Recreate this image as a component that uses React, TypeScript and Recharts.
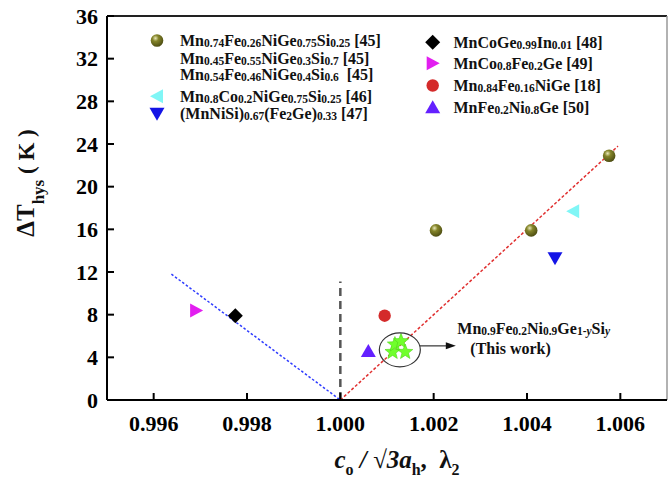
import React from 'react';
import { ScatterChart, Scatter, XAxis, YAxis, ReferenceLine, ReferenceDot, Legend } from 'recharts';

const FONT = '"Liberation Serif", "Times New Roman", Times, serif';

// axis ticks
const xTicks = [0.996, 0.998, 1.0, 1.002, 1.004, 1.006];
const xMinorTicks = [0.995, 0.997, 0.999, 1.001, 1.003, 1.005, 1.007];
const yTicks = [0, 4, 8, 12, 16, 20, 24, 28, 32, 36];
const yMinorTicks = [2, 6, 10, 14, 18, 22, 26, 30, 34];

// values: x = c/(sqrt3 a) lambda2, y = dT_hys (K)
const mnFeNiGeSiX = [1.00205, 1.00409, 1.00576];
const mnFeNiGeSiY = [15.9, 15.9, 22.9];
const mnCoNiGeSiX = [1.00499];
const mnCoNiGeSiY = [17.7];
const mnNiSiFeGeX = [1.0046];
const mnNiSiFeGeY = [13.3];
const mnCoGeInX = [0.99775];
const mnCoGeInY = [7.9];
const mnCoFeGeX = [0.99691];
const mnCoFeGeY = [8.4];
const mnFeNiGeX = [1.00095];
const mnFeNiGeY = [7.9];
const mnFeNi08GeX = [1.0006];
const mnFeNi08GeY = [4.6];
const thisWorkX = [1.00112, 1.00117, 1.0013, 1.00139];
const thisWorkY = [4.5, 5.2, 5.5, 4.5];

// guide lines
const leftGuide = [
  { x: 0.99638, y: 11.8 },
  { x: 1.0, y: 0 },
];
const rightGuide = [
  { x: 1.0, y: 0 },
  { x: 1.00595, y: 23.8 },
];
const divider = [
  { x: 1.0, y: 0 },
  { x: 1.0, y: 11.1 },
];
const thisWorkCenter = { x: 1.001275, y: 4.7 };

// legend text, _{..} = subscript, _(..) = italic subscript
const legendLeft = [
  'Mn_{0.74}Fe_{0.26}NiGe_{0.75}Si_{0.25} [45]',
  'Mn_{0.45}Fe_{0.55}NiGe_{0.3}Si_{0.7} [45]',
  'Mn_{0.54}Fe_{0.46}NiGe_{0.4}Si_{0.6}  [45]',
  'Mn_{0.8}Co_{0.2}NiGe_{0.75}Si_{0.25} [46]',
  '(MnNiSi)_{0.67}(Fe_{2}Ge)_{0.33} [47]',
];
const legendRight = [
  'MnCoGe_{0.99}In_{0.01} [48]',
  'MnCo_{0.8}Fe_{0.2}Ge [49]',
  'Mn_{0.84}Fe_{0.16}NiGe [18]',
  'MnFe_{0.2}Ni_{0.8}Ge [50]',
];
const thisWorkLabel = 'Mn_{0.9}Fe_{0.2}Ni_{0.9}Ge_{1-}_(y)Si_(y)';

const pts = (xs: number[], ys: number[]) => xs.map((x, i) => ({ x, y: ys[i] }));

type Seg = { t: string; sub?: boolean; it?: boolean };
const parseFormula = (s: string): Seg[] => {
  const out: Seg[] = [];
  const re = /_\{([^}]*)\}|_\(([^)]*)\)/g;
  let last = 0;
  let m: RegExpExecArray | null;
  while ((m = re.exec(s))) {
    if (m.index > last) out.push({ t: s.slice(last, m.index) });
    if (m[1] !== undefined) out.push({ t: m[1], sub: true });
    else out.push({ t: m[2], sub: true, it: true });
    last = m.index + m[0].length;
  }
  if (last < s.length) out.push({ t: s.slice(last) });
  return out;
};

const Formula = ({ x, y, text, size = 16, sub = 11.5 }: { x: number; y: number; text: string; size?: number; sub?: number }) => {
  let shift = 0;
  return (
    <text x={x} y={y} fontFamily={FONT} fontWeight="bold" fontSize={size} fill="#111" style={{ whiteSpace: 'pre' }}>
      {parseFormula(text).map((s, i) => {
        const target = s.sub ? 1 : 0;
        const dy = target - shift;
        shift = target;
        return (
          <tspan key={i} dy={dy} fontSize={s.sub ? sub : size} fontStyle={s.it ? 'italic' : 'normal'}>
            {s.t}
          </tspan>
        );
      })}
    </text>
  );
};

// ---- marker shapes
type P = { cx?: number; cy?: number };
const Sphere = ({ cx = 0, cy = 0 }: P) => (
  <g>
    <defs>
      <radialGradient id="oliveBall" cx="38%" cy="32%" r="70%">
        <stop offset="0%" stopColor="#e8e8b8" />
        <stop offset="35%" stopColor="#85852a" />
        <stop offset="100%" stopColor="#4c4c12" />
      </radialGradient>
    </defs>
    <circle cx={cx} cy={cy} r={6.3} fill="url(#oliveBall)" />
  </g>
);
const Dot = ({ cx = 0, cy = 0 }: P) => <circle cx={cx} cy={cy} r={6.2} fill="#d42a2a" />;
const Diamond = ({ cx = 0, cy = 0 }: P) => (
  <path d={`M${cx},${cy - 7.5}L${cx + 7.5},${cy}L${cx},${cy + 7.5}L${cx - 7.5},${cy}Z`} fill="#000" />
);
const TriRight = ({ cx = 0, cy = 0 }: P) => (
  <path d={`M${cx - 6},${cy - 7}L${cx + 7},${cy}L${cx - 6},${cy + 7}Z`} fill="#e21ef0" />
);
const TriLeft = ({ cx = 0, cy = 0 }: P) => (
  <path d={`M${cx + 6},${cy - 7}L${cx - 7},${cy}L${cx + 6},${cy + 7}Z`} fill="#80f6f6" />
);
const TriUp = ({ cx = 0, cy = 0 }: P) => (
  <path d={`M${cx},${cy - 7}L${cx + 7.5},${cy + 6}L${cx - 7.5},${cy + 6}Z`} fill="#6420ff" />
);
const TriDown = ({ cx = 0, cy = 0 }: P) => (
  <path d={`M${cx - 7.5},${cy - 6}L${cx + 7.5},${cy - 6}L${cx},${cy + 7}Z`} fill="#1414e6" />
);
const Star = ({ cx = 0, cy = 0 }: P) => {
  let d = '';
  for (let i = 0; i < 10; i++) {
    const a = -Math.PI / 2 + (i * Math.PI) / 5;
    const rad = i % 2 === 0 ? 8 : 3.4;
    d += (i ? 'L' : 'M') + (cx + rad * Math.cos(a)).toFixed(2) + ',' + (cy + rad * Math.sin(a)).toFixed(2);
  }
  return <path d={d + 'Z'} fill="#70ff2c" stroke="#4fd61a" strokeWidth={0.6} />;
};

const ThisWorkNote = ({ cx = 0, cy = 0 }: P) => (
  <g>
    <ellipse cx={cx} cy={cy} rx={20.5} ry={17} fill="none" stroke="#333" strokeWidth={1.2} />
    <line x1={cx + 20} y1={cy - 4} x2={cx + 48} y2={cy - 4} stroke="#333" strokeWidth={1.2} />
    <path d={`M${cx + 56},${cy - 4}L${cx + 46},${cy - 7.5}L${cx + 46},${cy - 0.5}Z`} fill="#111" />
    <Formula x={cx + 57.5} y={cy - 16} text={thisWorkLabel} />
    <text x={cx + 70.5} y={cy + 4} fontFamily={FONT} fontWeight="bold" fontSize={16} fill="#111">
      (This work)
    </text>
  </g>
);

const LegendBox = () => {
  const leftMarks = [Sphere, null, null, TriLeft, TriDown];
  const rightMarks = [Diamond, TriRight, Dot, TriUp];
  const leftBase = [46, 63.7, 80.3, 101.7, 119.3];
  const rightBase = [47.7, 68.7, 91, 112.7];
  return (
    <svg width={669} height={130}>
      {legendLeft.map((s, i) => {
        const M = leftMarks[i];
        return (
          <g key={s}>
            {M && <M cx={157} cy={leftBase[i] - 5.5} />}
            <Formula x={180} y={leftBase[i]} text={s} />
          </g>
        );
      })}
      {legendRight.map((s, i) => {
        const M = rightMarks[i];
        return (
          <g key={s}>
            <M cx={432.7} cy={rightBase[i] - 5.5} />
            <Formula x={453.5} y={rightBase[i]} text={s} />
          </g>
        );
      })}
    </svg>
  );
};

const XLabel = (props: any) => {
  const vb = props.viewBox || { x: 107, y: 400, width: 560, height: 79 };
  const cx = vb.x + vb.width / 2 + 10;
  const base = vb.y + 68;
  return (
    <text x={cx} y={base} textAnchor="middle" fontFamily={FONT} fontWeight="bold" fontSize={25} fill="#111" style={{ whiteSpace: 'pre' }}>
      <tspan fontStyle="italic">c</tspan>
      <tspan fontSize={16} dy={7}>o</tspan>
      <tspan fontStyle="italic" dy={-7}> / √3a</tspan>
      <tspan fontSize={16} dy={7}>h</tspan>
      <tspan dy={-7}>,  λ</tspan>
      <tspan fontSize={16} dy={7}>2</tspan>
    </text>
  );
};

const YLabel = (props: any) => {
  const vb = props.viewBox || { x: 47, y: 16, width: 60, height: 384 };
  const bx = vb.x - 13;
  const cy = vb.y + vb.height / 2 - 25;
  return (
    <text transform={`translate(${bx},${cy}) rotate(-90)`} textAnchor="middle" fontFamily={FONT} fontWeight="bold" fontSize={25} fill="#111" style={{ whiteSpace: 'pre' }}>
      <tspan>ΔT</tspan>
      <tspan fontSize={17} dy={10}>hys</tspan>
      <tspan fontSize={23} dy={-10}> ( K )</tspan>
    </text>
  );
};

// custom tick so the serif face is applied directly on the text
const Tick = ({ x, y, payload, textAnchor, fmt }: any) => (
  <text x={x} y={y} textAnchor={textAnchor} dominantBaseline={textAnchor === 'middle' ? 'hanging' : 'central'}
    fontFamily={FONT} fontWeight="bold" fontSize={22} fill="#000">
    {fmt ? fmt(payload.value) : payload.value}
  </text>
);
const axisPen = { stroke: '#000', strokeWidth: 2 };

export default function App() {
  return (
    <div style={{ position: 'absolute', left: 0, top: 0, background: '#fff', fontFamily: FONT }}>
      <ScatterChart width={669} height={479} margin={{ top: 16, right: 2, bottom: 0, left: 47 }} style={{ fontFamily: FONT }}>
        <XAxis xAxisId="minor" type="number" dataKey="x" domain={[0.995, 1.007]} ticks={xMinorTicks} interval={0}
          height={0} tick={false} axisLine={false} tickSize={-4} tickLine={axisPen} allowDataOverflow />
        <YAxis yAxisId="minor" type="number" dataKey="y" domain={[0, 36]} ticks={yMinorTicks} interval={0}
          width={0} tick={false} axisLine={false} tickSize={-4} tickLine={axisPen} allowDataOverflow />
        <XAxis type="number" dataKey="x" domain={[0.995, 1.007]} ticks={xTicks} interval={0} height={79}
          tickSize={-7} tickMargin={22} tick={<Tick fmt={(v: number) => v.toFixed(3)} />}
          axisLine={axisPen} tickLine={axisPen} label={{ content: XLabel }} allowDataOverflow />
        <YAxis type="number" dataKey="y" domain={[0, 36]} ticks={yTicks} interval={0} width={60}
          tickSize={-7} tickMargin={16} tick={<Tick />} axisLine={axisPen} tickLine={axisPen}
          label={{ content: YLabel }} allowDataOverflow />

        <ReferenceLine y={36} stroke="#222" strokeWidth={2} />
        <ReferenceLine x={1.007} stroke="#999" strokeWidth={1.5} />
        <ReferenceLine segment={divider} stroke="#555" strokeWidth={2.5} strokeDasharray="8 5" />
        <ReferenceLine segment={leftGuide} stroke="#2f3cff" strokeWidth={1.5} strokeDasharray="2.5 2" />
        <ReferenceLine segment={rightGuide} stroke="#e03030" strokeWidth={1.5} strokeDasharray="3 2" />

        <Scatter name="MnFeNiGeSi" data={pts(mnFeNiGeSiX, mnFeNiGeSiY)} shape={(p: any) => <Sphere {...p} />} isAnimationActive={false} />
        <Scatter name="MnCoNiGeSi" data={pts(mnCoNiGeSiX, mnCoNiGeSiY)} shape={(p: any) => <TriLeft {...p} />} isAnimationActive={false} />
        <Scatter name="MnNiSiFeGe" data={pts(mnNiSiFeGeX, mnNiSiFeGeY)} shape={(p: any) => <TriDown {...p} />} isAnimationActive={false} />
        <Scatter name="MnCoGeIn" data={pts(mnCoGeInX, mnCoGeInY)} shape={(p: any) => <Diamond {...p} />} isAnimationActive={false} />
        <Scatter name="MnCoFeGe" data={pts(mnCoFeGeX, mnCoFeGeY)} shape={(p: any) => <TriRight {...p} />} isAnimationActive={false} />
        <Scatter name="MnFeNiGe" data={pts(mnFeNiGeX, mnFeNiGeY)} shape={(p: any) => <Dot {...p} />} isAnimationActive={false} />
        <Scatter name="MnFeNi08Ge" data={pts(mnFeNi08GeX, mnFeNi08GeY)} shape={(p: any) => <TriUp {...p} />} isAnimationActive={false} />
        <Scatter name="This work" data={pts(thisWorkX, thisWorkY)} shape={(p: any) => <Star {...p} />} isAnimationActive={false} />

        <ReferenceDot x={thisWorkCenter.x} y={thisWorkCenter.y} r={1} ifOverflow="visible" shape={(p: any) => <ThisWorkNote {...p} />} />

        <Legend verticalAlign="middle" align="center" layout="horizontal" content={() => <LegendBox />}
          wrapperStyle={{ left: 0, top: 0, width: 669, height: 130, pointerEvents: 'none' }} />
      </ScatterChart>
    </div>
  );
}
